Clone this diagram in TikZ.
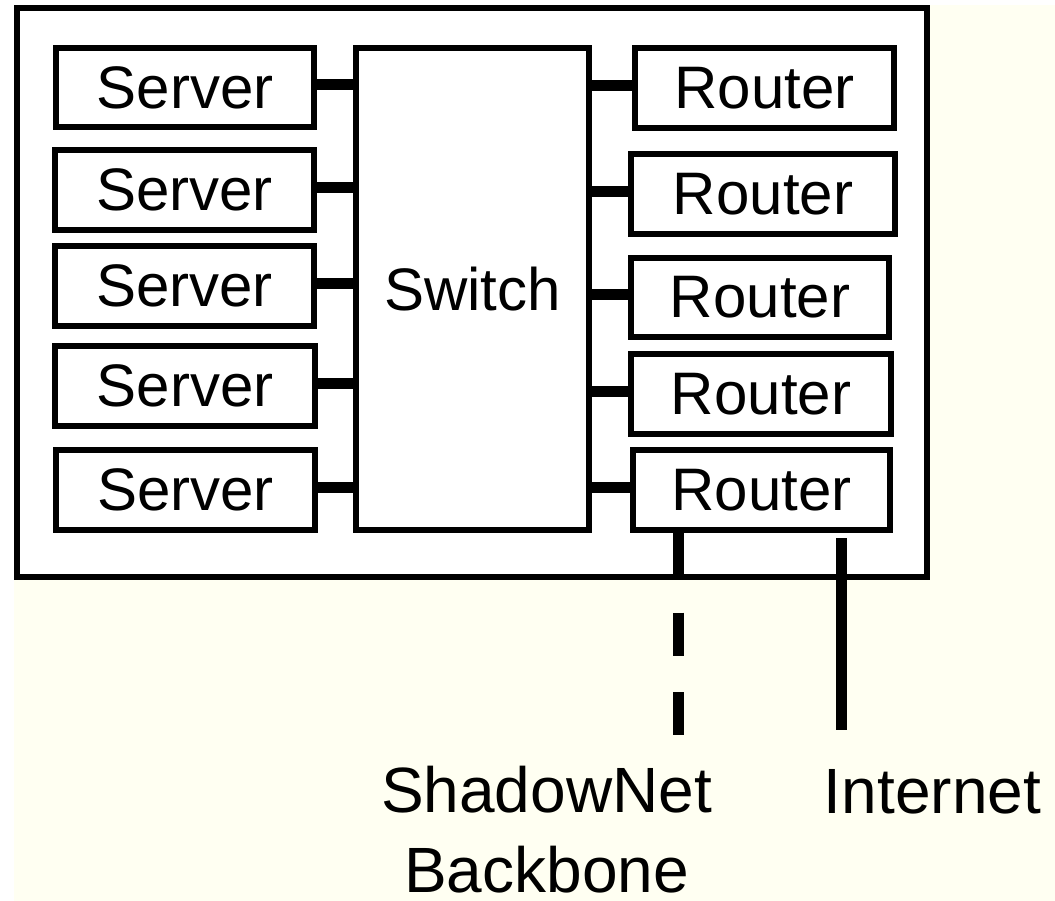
\documentclass[tikz,border=0pt]{standalone}
\usepackage{fontspec}
\setmainfont{Liberation Sans}
\usetikzlibrary{calc}
\definecolor{paper}{RGB}{255,255,242}
\begin{document}
\begin{tikzpicture}[x=1pt,y=-1pt,
  unit/.style={draw,fill=white,line width=6pt,inner sep=0pt,
    minimum width=259pt,minimum height=80pt,
    font=\fontsize{60}{72}\selectfont},
  enclosure/.style={draw,fill=white,line width=6.5pt,inner sep=0pt},
  link/.style={line width=11pt},
  caption/.style={font=\fontsize{64}{80}\selectfont,inner sep=0pt,align=center}]
% page background
\fill[white] (0,0) rectangle (1055,901);
\useasboundingbox (0,0) rectangle (1055,901);
\fill[paper] (14,5) rectangle (1055,901);

% the enclosing site box
\node[enclosure,minimum width=910pt,minimum height=569pt] (site) at (472,292.5) {};

% switch in the middle
\node[unit,minimum width=233pt,minimum height=482pt] (sw) at (472.5,289) {Switch};

% servers on the left
\node[unit,minimum width=258pt,minimum height=79pt] (s1) at (185,87.5) {Server};
\node[unit] (s2) at (184.5,190) {Server};
\node[unit] (s3) at (184.5,286) {Server};
\node[unit,minimum width=260pt] (s4) at (185,386) {Server};
\node[unit] (s5) at (185.5,490) {Server};

% routers on the right
\node[unit] (r1) at (764.5,88) {Router};
\node[unit,minimum width=264pt] (r2) at (763,194) {Router};
\node[unit,minimum width=258pt,minimum height=79pt] (r3) at (760,297.5) {Router};
\node[unit,minimum width=260pt] (r4) at (761,394) {Router};
\node[unit,minimum width=257pt] (r5) at (761.5,490) {Router};

% links between servers, switch and routers
\foreach \n in {s1,s2,s3,s4,s5}
  \draw[link] ($(\n.east)+(0,-2.5)$) -- ($(\n.east -| sw.west)+(0,-2.5)$);
\foreach \n in {r1,r2,r3,r4,r5}
  \draw[link] ($(\n.west)+(0,-2.5)$) -- ($(\n.west -| sw.east)+(0,-2.5)$);

% uplinks leaving the site
\coordinate (sbend) at (678.5,736);
\coordinate (inettop) at (841.5,538);
\coordinate (inetend) at (841.5,730);
\draw[link,dash pattern=on 43pt off 36.5pt] (r5.south -| sbend) -- (sbend);
\draw[link,line width=10.5pt] (inettop) -- (inetend);

% captions
\node[caption,anchor=north] (sbl) at (546.5,766) {ShadowNet\\Backbone};
\node[caption,anchor=base] (inet) at (932.5,813) {Internet};
\end{tikzpicture}
\end{document}
